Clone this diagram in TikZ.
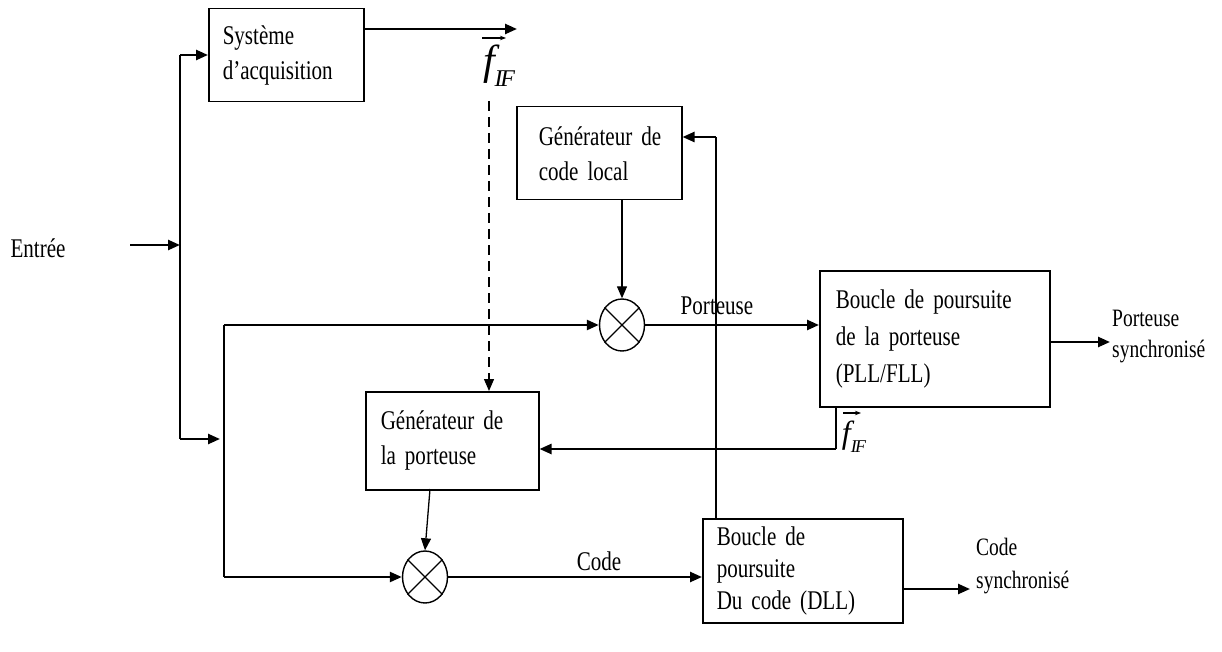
\documentclass[tikz,border=0pt]{standalone}
\usepackage{fontspec}
\setmainfont{Liberation Serif}[FakeStretch=0.78]
\newfontfamily\vecfont{Liberation Serif}
\usetikzlibrary{arrows.meta,shapes.geometric,calc}

\tikzset{
  blockbox/.style={draw, line width=1.5pt, anchor=north west, align=left,
    font=\fontsize{27}{35}\selectfont, inner ysep=0pt},
  mixer/.style={draw, ellipse, line width=1.4pt, minimum width=45pt,
    minimum height=52pt, inner sep=0pt},
  thin/.style={line width=1.3pt},
  flow/.style={line width=2.4pt, -{Triangle[length=12pt,width=10pt]}},
  flowthin/.style={line width=1.3pt, -{Triangle[length=12pt,width=10pt]}},
  lbl/.style={font=\fontsize{27}{30}\selectfont, inner sep=0pt},
  veclbl/.style={inner sep=0pt},
  vecarrow/.style={line width=1.1pt, -{Stealth[length=6pt,width=4.5pt]}},
}

% italic f with subscript IF: #1 size of f, #2 size of the subscript
\newcommand{\fIF}[2]{{\vecfont\itshape\fontsize{#1}{#1}\selectfont
  f\raisebox{-0.28em}{\fontsize{#2}{#2}\selectfont I\kern-0.1emF}}}

\begin{document}
\begin{tikzpicture}[x=1pt,y=-1pt]
\useasboundingbox (0,0) rectangle (1222,652);

% blocks
\node[blockbox, minimum width=155pt, minimum height=93pt, text width=131pt, inner xsep=12pt]
  (sys) at (208,8) {\hspace*{2pt}Système\\\hspace*{2pt}d’acquisition};
\node[blockbox, minimum width=165pt, minimum height=93pt, text width=129pt, inner xsep=18pt]
  (code) at (516,106) {\hspace*{4pt}Générateur de\\\hspace*{4pt}code local};
\node[blockbox, minimum width=230pt, minimum height=136pt, text width=198pt, inner xsep=16pt,
  font=\fontsize{27}{37}\selectfont]
  (pll) at (819,270) {Boucle de poursuite\\de la porteuse\\(PLL/FLL)};
\node[blockbox, minimum width=173pt, minimum height=98pt, text width=143pt, inner xsep=15pt]
  (gp) at (365,391) {Générateur de\\la porteuse};
\node[blockbox, minimum width=200pt, minimum height=104pt, text width=172pt, inner xsep=14pt,
  font=\fontsize{27}{32}\selectfont]
  (dll) at (702,518) {Boucle de\\poursuite\\Du code (DLL)};

% multipliers
\node[mixer] (m1) at (622,325) {};
\draw[thin] (m1.45) -- (m1.225) (m1.135) -- (m1.315);
\node[mixer] (m2) at (425,577) {};
\draw[thin] (m2.45) -- (m2.225) (m2.135) -- (m2.315);

% input and its split
\node[lbl] (entree) at (38,248) {Entrée};
\coordinate (in) at (130,245);
\coordinate (split) at (180,245);
\coordinate (top) at (180,55);
\coordinate (bot) at (180,439);
\coordinate (botend) at (220,439);
\draw[flow] (in) -- (split);
\draw[thin] (top) -- (bot);
\draw[flow] (top) -- (sys.west |- top);
\draw[flow] (bot) -- (botend);

% branch feeding both multipliers
\coordinate (br) at (224,325);
\coordinate (brlow) at (224,577);
\draw[thin] (br) -- (brlow);
\draw[flow] (br) -- (m1.west);
\draw[flow] (brlow) -- (m2.west);

% acquisition output and its frequency estimate
\coordinate (acqout) at (517,29);
\draw[flow] (sys.east |- acqout) -- (acqout);
\node[veclbl] (fif1) at (499,66) {\fIF{42}{24}};
\draw[vecarrow] ($(fif1.center)+(-17,-28)$) -- ++(24,0);
\coordinate (dsh) at (489,101);
\draw[line width=1.3pt, dash pattern=on 10pt off 6pt, -{Triangle[length=12pt,width=10pt]}]
  (dsh) -- (gp.north -| dsh);

% carrier path
\draw[flowthin] (m1 |- code.south) -- (m1.north);
\draw[flow] (m1.east) -- (pll.west |- m1);
\node[lbl] (port) at (717,306) {Porteuse};
\coordinate (fb) at (836,449);
\draw[line width=1.3pt] (pll.south -| fb) -- (fb);
\draw[flow] (fb) -- (gp.east |- fb);
\node[veclbl] (fif2) at (854,437) {\fIF{32}{18}};
\draw[vecarrow] ($(fif2.center)+(-11,-24)$) -- ++(18,0);
\coordinate (pout) at (1110,342);
\draw[flow] (pll.east |- pout) -- (pout);
\node[lbl, anchor=west, align=left, font=\fontsize{25}{31}\selectfont] (psync) at (1112,337)
  {Porteuse\\synchronisé};

% code path
\coordinate (gpout) at (430,489);
\draw[flowthin] (gpout) -- (m2.north);
\draw[flow] (m2.east) -- (dll.west |- m2);
\node[lbl] (codelbl) at (599,561) {Code};
\coordinate (up) at (716,137);
\draw[line width=1.3pt] (dll.north -| up) -- (up);
\draw[flow] (up) -- (code.east |- up);
\coordinate (cout) at (970,589);
\draw[flow] (dll.east |- cout) -- (cout);
\node[lbl, anchor=west, align=left, font=\fontsize{25}{33}\selectfont] (csync) at (976,566)
  {Code\\synchronisé};

\end{tikzpicture}
\end{document}
